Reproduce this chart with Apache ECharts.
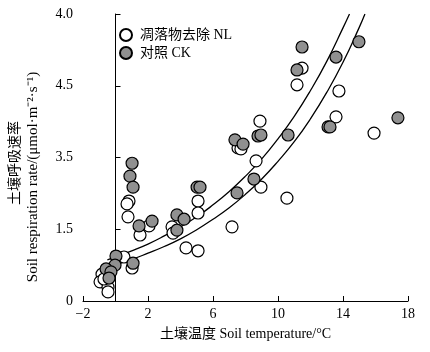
<!DOCTYPE html>
<html>
<head>
<meta charset="utf-8">
<script src="https://cdn.jsdelivr.net/npm/echarts@6/dist/echarts.min.js"></script>
<style>
  html, body { margin: 0; padding: 0; background: #fff; }
  #chart { width: 430px; height: 352px; }
</style>
</head>
<body>
<div id="chart"></div>
<script>
// tick labels as printed in the figure
const xTickLabels = ['−2', '2', '6', '10', '14', '18'];
const yTickLabels = ['0', '1.5', '3.5', '4.5', '4.0'];

// 凋落物去除 NL (open circles): [soil temperature, respiration]
const nlPoints = [
  [0.83, 2.09], [0.71, 2.03], [0.77, 1.76], [2.06, 1.57], [1.51, 1.38],
  [0.52, 0.92], [1.02, 0.69], [-0.83, 0.56], [-0.95, 0.40], [-0.46, 0.29],
  [-0.46, 0.19], [-0.71, 0.46], [5.08, 2.09], [5.08, 1.84], [3.48, 1.55],
  [3.54, 1.42], [4.34, 1.11], [5.08, 1.05], [7.17, 1.55], [8.89, 3.76],
  [7.54, 3.20], [7.72, 3.18], [8.65, 2.93], [8.95, 2.38], [10.55, 2.15],
  [11.48, 4.87], [11.17, 4.52], [13.75, 4.39], [13.57, 3.85], [15.91, 3.51]
];

// 对照 CK (grey circles)
const ckPoints = [
  [1.02, 2.88], [0.89, 2.61], [1.08, 2.38], [1.45, 1.57], [2.25, 1.67],
  [0.03, 0.94], [1.08, 0.79], [-0.03, 0.75], [-0.58, 0.67], [-0.28, 0.61],
  [-0.40, 0.48], [3.78, 1.80], [4.22, 1.71], [3.78, 1.48], [5.02, 2.38],
  [5.20, 2.38], [7.48, 2.26], [7.35, 3.37], [7.85, 3.28], [8.77, 3.45],
  [8.95, 3.47], [10.62, 3.47], [8.52, 2.55], [11.48, 5.31], [11.17, 4.83],
  [13.57, 5.10], [14.98, 5.42], [13.08, 3.64], [13.20, 3.64], [17.38, 3.83]
];

// fitted curves
const upperCurve = [
  [-0.5, 0.86], [1, 1.05], [2, 1.19], [3, 1.36], [4, 1.55], [5, 1.76],
  [6, 2.01], [7, 2.29], [8, 2.61], [9, 2.97], [10, 3.39], [11, 3.86],
  [12, 4.40], [13, 5.01], [14, 5.71], [14.4, 6.0]
];
const lowerCurve = [
  [-0.3, 0.73], [1, 0.87], [2, 1.0], [3, 1.14], [4, 1.30], [5, 1.49],
  [6, 1.71], [7, 1.95], [8, 2.23], [9, 2.55], [10, 2.92], [11, 3.33],
  [12, 3.81], [13, 4.36], [14, 4.99], [15, 5.72], [15.35, 6.0]
];

const serif = "'Liberation Serif', 'Noto Sans CJK SC', serif";

const chart = echarts.init(document.getElementById('chart'));

const option = {
  animation: false,
  backgroundColor: '#fff',
  textStyle: { fontFamily: serif, color: '#000' },
  grid: { left: 83, right: 22, top: 14, bottom: 51 },
  legend: {
    orient: 'vertical',
    left: 114,
    top: 23,
    itemWidth: 12,
    itemHeight: 12,
    itemGap: 4,
    icon: 'circle',
    data: ['凋落物去除 NL', '对照 CK'],
    textStyle: { fontFamily: serif, fontSize: 14, color: '#000', padding: [0, 0, 0, 3] }
  },
  xAxis: {
    type: 'value',
    min: -2,
    max: 18,
    interval: 4,
    name: '土壤温度 Soil temperature/°C',
    nameLocation: 'middle',
    nameGap: 26,
    nameTextStyle: { fontFamily: serif, fontSize: 14, color: '#000' },
    splitLine: { show: false },
    axisLine: { lineStyle: { color: '#000', width: 1 } },
    axisTick: { inside: true, length: 5, lineStyle: { color: '#000' } },
    axisLabel: {
      fontFamily: serif, fontSize: 14, color: '#000', margin: 6,
      formatter: function (v) { return xTickLabels[Math.round((v + 2) / 4)]; }
    }
  },
  yAxis: {
    type: 'value',
    min: 0,
    max: 6,
    interval: 1.5,
    splitLine: { show: false },
    axisLine: { show: true, lineStyle: { color: '#000', width: 1 } },
    axisTick: { show: true, inside: true, length: 5, lineStyle: { color: '#000' } },
    axisLabel: {
      fontFamily: serif, fontSize: 14, color: '#000', margin: 10,
      formatter: function (v) { return yTickLabels[Math.round(v / 1.5)]; }
    }
  },
  graphic: [
    {
      type: 'text', x: 15, y: 163, rotation: Math.PI / 2,
      style: { text: '土壤呼吸速率', fontFamily: serif, fontSize: 14, fill: '#000',
        align: 'center', verticalAlign: 'middle' }
    },
    {
      type: 'text', x: 33, y: 177, rotation: Math.PI / 2,
      style: { text: 'Soil respiration rate/(μmol·m⁻²·s⁻¹)', fontFamily: serif, fontSize: 15,
        fill: '#000', align: 'center', verticalAlign: 'middle' }
    }
  ],
  series: [
    {
      type: 'line', data: upperCurve, smooth: true, symbol: 'none', z: 1,
      lineStyle: { color: '#000', width: 1.3 }
    },
    {
      type: 'line', data: lowerCurve, smooth: true, symbol: 'none', z: 1,
      lineStyle: { color: '#000', width: 1.3 }
    },
    {
      name: '凋落物去除 NL', type: 'scatter', data: nlPoints, symbolSize: 12, z: 3,
      itemStyle: { color: '#fff', borderColor: '#000', borderWidth: 1.2, opacity: 1 }
    },
    {
      name: '对照 CK', type: 'scatter', data: ckPoints, symbolSize: 12, z: 4,
      itemStyle: { color: '#909090', borderColor: '#000', borderWidth: 1.2, opacity: 1 }
    }
  ]
};

chart.setOption(option);
</script>
</body>
</html>
